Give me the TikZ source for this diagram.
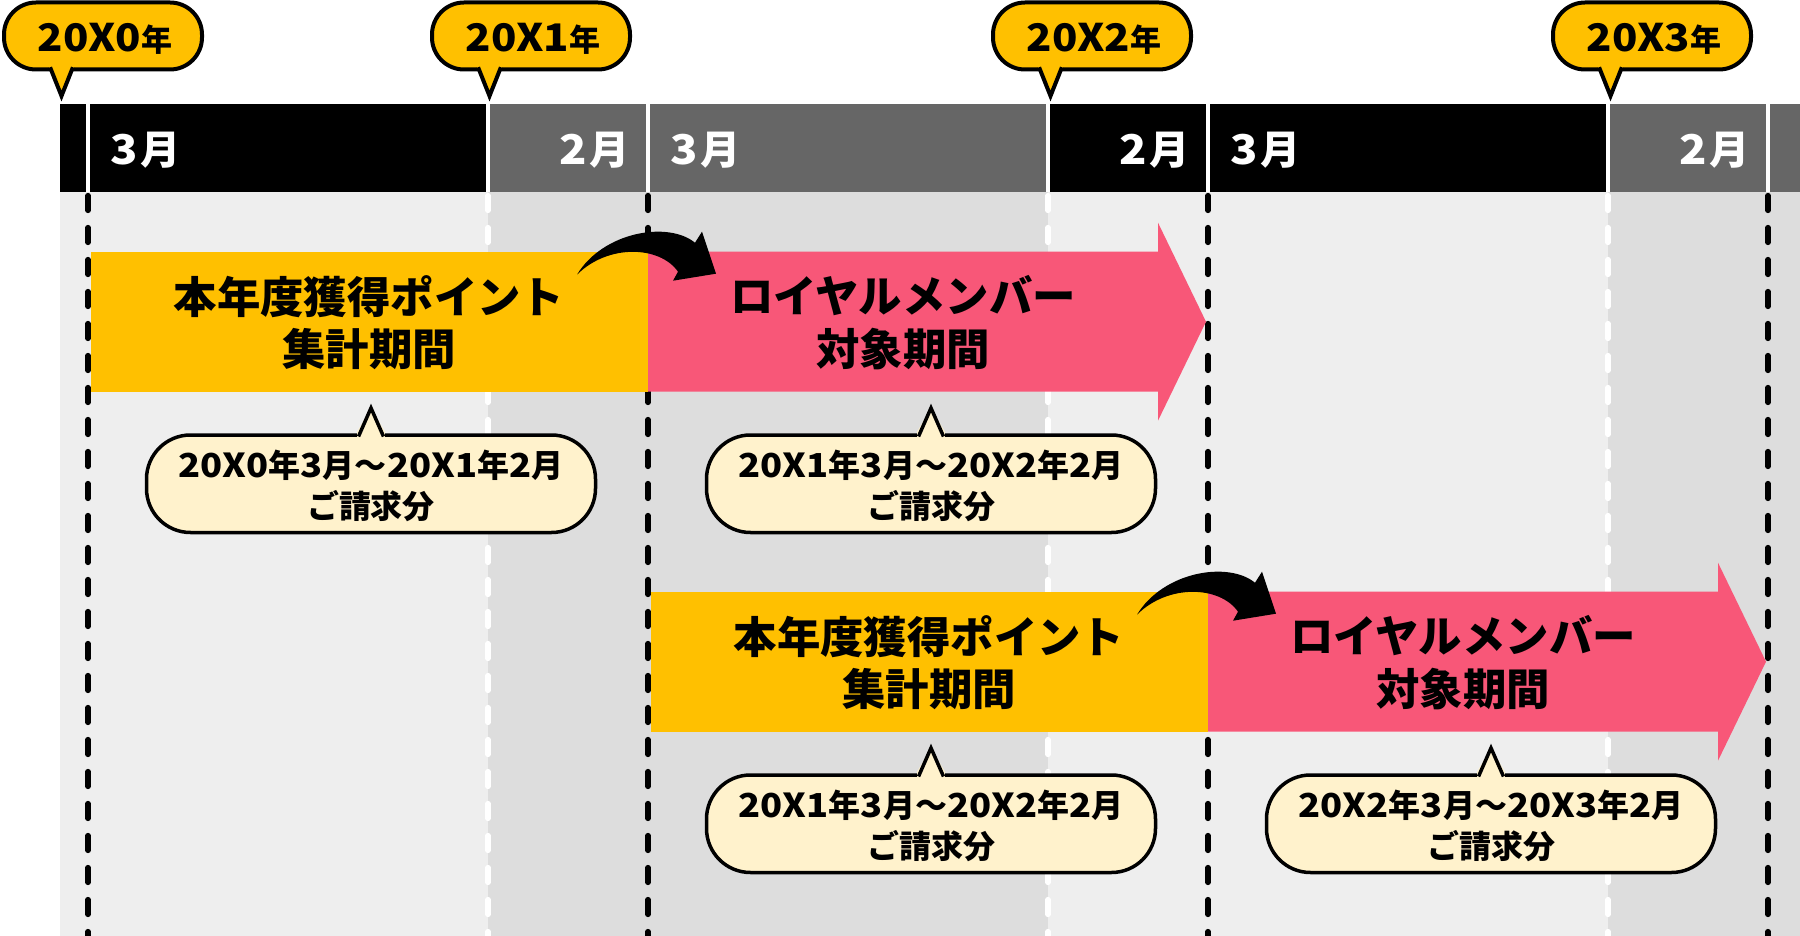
\documentclass[tikz,border=0pt]{standalone}
\usepackage{fontspec}
\setmainfont{Noto Sans CJK JP}
\newfontfamily\numfont{Noto Sans CJK JP}[FakeStretch=1.1]
\newcommand\cnum[1]{{\numfont\fontsize{16.5}{16.5}\selectfont#1}}
\definecolor{BarClr}{rgb}{1,0.753,0}
\definecolor{RoyalClr}{rgb}{0.973,0.341,0.471}
\definecolor{NoteClr}{rgb}{1,0.949,0.8}
\definecolor{HeadClr}{rgb}{0.4,0.4,0.4}
\definecolor{LightClr}{rgb}{0.933,0.933,0.933}
\definecolor{DarkClr}{rgb}{0.867,0.867,0.867}

\begin{document}
\begin{tikzpicture}[x=0.5pt,y=-0.5pt,
  sep/.style={white,line width=2pt},
  yearline/.style={line width=2.6pt,dash pattern=on 7.5pt off 8.5pt,line cap=round},
  outline/.style={draw=black,line width=2pt,line join=miter},
  month/.style={white,inner sep=0pt,font=\bfseries},
  period/.style={align=center,inner sep=0pt,font=\bfseries\fontsize{21.7}{26.25}\selectfont},
  note/.style={align=center,inner sep=0pt,font=\bfseries\fontsize{16}{20.5}\selectfont},
  year/.style={inner sep=0pt,anchor=base,font=\bfseries}]
\useasboundingbox (0,0) rectangle (1800,936);

\foreach \a/\b/\hc/\bc in {60/488/black/LightClr,488/1048/HeadClr/DarkClr,1048/1608/black/LightClr,1608/1800/HeadClr/DarkClr}{
  \fill[\bc] (\a,192) rectangle (\b,936);
  \fill[\hc] (\a,104) rectangle (\b,192);
}
\foreach \x in {88,488,648,1048,1208,1608,1768}
  \draw[sep] (\x,104) -- (\x,192);
\foreach \x in {88,648,1208,1768}
  \draw[yearline,black] (\x,195.5) -- (\x,936);
\foreach \x in {488,1048,1608}
  \draw[yearline,white] (\x,195.5) -- (\x,936);

\foreach \x [count=\i] in {88,648,1208}{
  \node[month,anchor=base west] (mar\i) at (\x+22,165) {{\numfont\fontsize{20.5}{20.5}\selectfont 3}\hspace{1.5pt}\fontsize{20}{20}\selectfont 月};
  \node[month,anchor=base east] (feb\i) at (\x+542,165) {{\numfont\fontsize{20.5}{20.5}\selectfont 2}\hspace{1.5pt}\fontsize{20}{20}\selectfont 月};
}

\foreach \r in {0,1}{
  \pgfmathsetmacro\m{88+560*\r}
  \pgfmathsetmacro\t{251.7+340*\r}
  \fill[BarClr] (\m+2.5,\t) rectangle (\m+560,\t+140);
  \fill[RoyalClr] (\m+560,\t) -- (\m+1070,\t) -- (\m+1070,\t-29) -- (\m+1118,\t+70)
    -- (\m+1070,\t+169) -- (\m+1070,\t+140) -- (\m+560,\t+140) -- cycle;
  \node[period] (agg\r) at (\m+281,\t+71) {本年度獲得ポイント\\集計期間};
  \node[period] (royal\r) at (\m+815,\t+71) {ロイヤルメンバー\\対象期間};
  \fill[shift={(\m+560,\t)}] (-71,23) .. controls (-45,-20) and (20,-31) .. (47,-9)
    -- (54,-20) -- (68,22) -- (25,29) -- (30,20) .. controls (12,-6) and (-40,-8) .. cycle;
}

\foreach \cx/\cy/\ya/\yb [count=\i] in {371/435/0/1,931/435/1/2,931/775/1/2,1491/775/2/3}{
  \draw[outline,line width=1.75pt,fill=NoteClr,rounded corners=22pt] (\cx-224.5,\cy) rectangle (\cx+224.5,\cy+97.5);
  \fill[NoteClr] (\cx-14,\cy-3) -- (\cx,\cy-27) -- (\cx+14,\cy-3) -- cycle;
  \fill[NoteClr] (\cx-14,\cy-3) rectangle (\cx+14,\cy+3);
  \draw[outline,line width=1.75pt] (\cx-12.5,\cy+1.5) -- (\cx,\cy-27) -- (\cx+12.5,\cy+1.5);
  \node[note] (bill\i) at (\cx,\cy+51) {\cnum{20X\ya}年\cnum{3}月～\cnum{20X\yb}年\cnum{2}月\\ご請求分};
}

\foreach \bx/\yr in {2/0,430/1,991/2,1551/3}{
  \draw[outline,fill=BarClr,rounded corners=16pt] (\bx+2,2.5) rectangle (\bx+200,69.5);
  \fill[BarClr] (\bx+46.8,66.3) -- (\bx+59.5,96) -- (\bx+72.2,66.3) -- cycle;
  \draw[outline] (\bx+48.1,67.3) -- (\bx+59.5,96) -- (\bx+70.9,67.3);
  \node[year] (yr\yr) at (\bx+103,51.5) {{\numfont\fontsize{19}{19}\selectfont 20X\yr}\fontsize{15.5}{15.5}\selectfont 年};
}
\end{tikzpicture}
\end{document}
